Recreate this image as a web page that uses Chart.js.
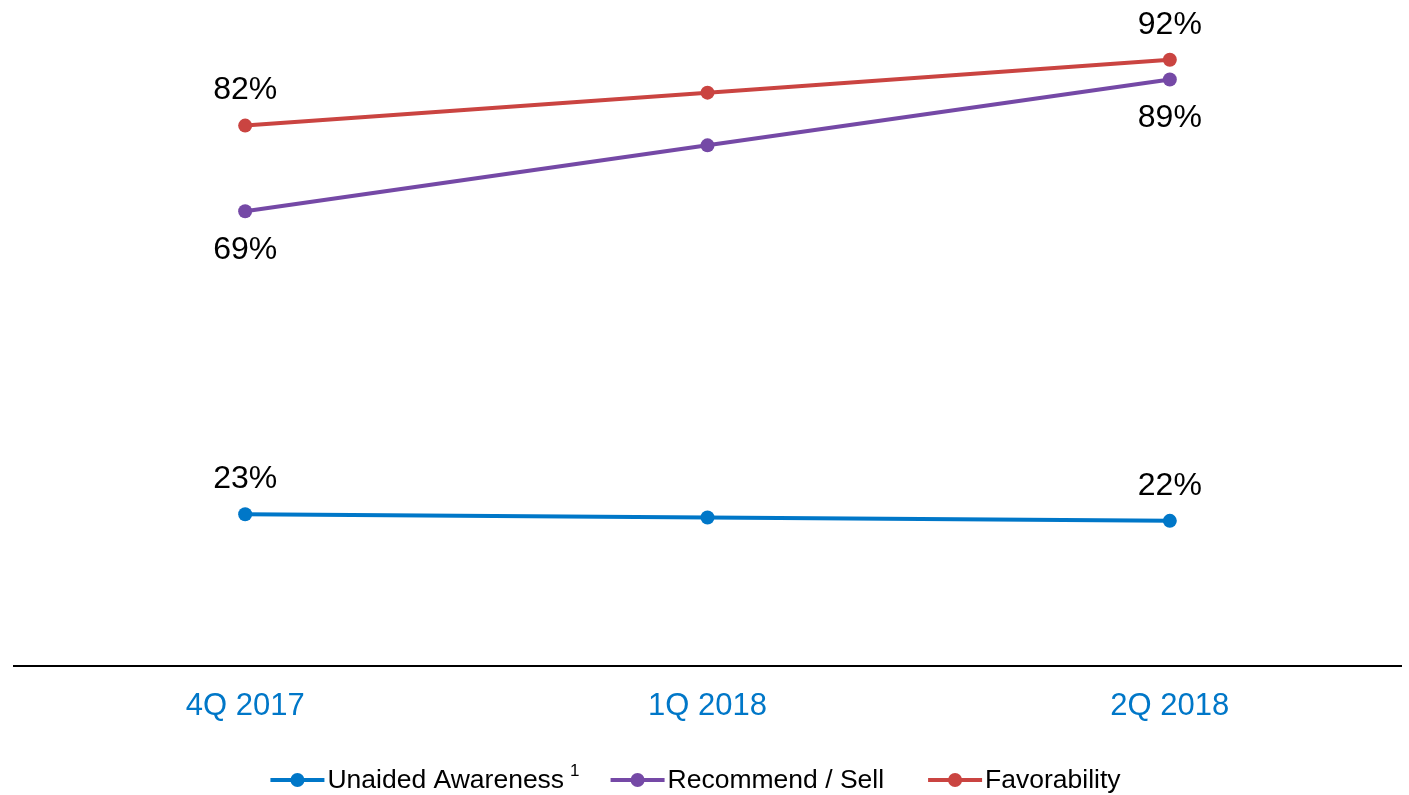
<!DOCTYPE html>
<html><head><meta charset="utf-8">
<script src="https://cdn.jsdelivr.net/npm/chart.js@4.4.0/dist/chart.umd.min.js"></script>
<style>html,body{margin:0;padding:0;background:#fff;overflow:hidden}</style>
</head><body>
<canvas id="c" width="1409" height="795"></canvas>
<script>
const categories = ["4Q 2017", "1Q 2018", "2Q 2018"];
const seriesNames = ["Unaided Awareness", "Recommend / Sell", "Favorability"];
const seriesFootnotes = ["1", "", ""];
const unaidedAwareness = [23, 22.5, 22];
const recommendSell = [69, 79, 89];
const favorability = [82, 87, 92];
const unaidedLabels = ["23%", "", "22%"];
const recommendLabels = ["69%", "", "89%"];
const favorabilityLabels = ["82%", "", "92%"];
const yRange = [0, 100];

const FONT = "'Liberation Sans', Arial, sans-serif";
const colors = ["#0077C8", "#7549A6", "#CA4441"];

const dataLabelPlugin = {
  id: 'dataLabels',
  afterDatasetsDraw(chart) {
    const ctx = chart.ctx;
    ctx.save();
    ctx.font = "32px " + FONT;
    ctx.fillStyle = "#000";
    ctx.textAlign = "center";
    ctx.textBaseline = "middle";
    chart.data.datasets.forEach((ds, i) => {
      const meta = chart.getDatasetMeta(i);
      meta.data.forEach((pt, j) => {
        const t = ds.pointLabels[j];
        if (!t) return;
        const off = ds.labelPos === 'below' ? 39 : -35;
        ctx.fillText(t, pt.x, pt.y + off);
      });
    });
    ctx.restore();
  }
};

const legendPlugin = {
  id: 'customLegend',
  afterDraw(chart) {
    const ctx = chart.ctx;
    ctx.save();
    const y = 780;
    const markerW = 54, textGap = 3, itemGaps = [31, 44];
    const mainFont = "26.5px " + FONT, supFont = "17px " + FONT;
    const items = chart.data.datasets.map((ds, i) => {
      ctx.font = mainFont;
      const tw = ctx.measureText(ds.label).width;
      let sw = 0;
      if (ds.footnote) { ctx.font = supFont; sw = 6 + ctx.measureText(ds.footnote).width; }
      return {ds, tw, sw, w: markerW + textGap + tw + sw};
    });
    const total = items.reduce((a, b) => a + b.w, 0) + itemGaps.reduce((a, b) => a + b, 0);
    let x = (chart.width - total) / 2 - 9;
    items.forEach((it, k) => {
      const c = it.ds.borderColor;
      ctx.strokeStyle = c; ctx.lineWidth = 4; ctx.lineCap = 'butt';
      ctx.beginPath(); ctx.moveTo(x, y); ctx.lineTo(x + markerW, y); ctx.stroke();
      ctx.fillStyle = c;
      ctx.beginPath(); ctx.arc(x + markerW / 2, y, 7, 0, Math.PI * 2); ctx.fill();
      ctx.fillStyle = "#000"; ctx.font = mainFont; ctx.textAlign = 'left'; ctx.textBaseline = 'middle';
      ctx.fillText(it.ds.label, x + markerW + textGap, y + 1);
      if (it.ds.footnote) {
        ctx.font = supFont;
        ctx.fillText(it.ds.footnote, x + markerW + textGap + it.tw + 6, y - 9);
      }
      x += it.w + (itemGaps[k] || 0);
    });
    ctx.restore();
  }
};

function ds(idx, data, labels, pos) {
  return {
    label: seriesNames[idx], footnote: seriesFootnotes[idx], data, pointLabels: labels, labelPos: pos,
    borderColor: colors[idx], backgroundColor: colors[idx], pointBackgroundColor: colors[idx],
    pointBorderColor: colors[idx], borderWidth: 4, pointRadius: 7, pointHoverRadius: 7,
    pointBorderWidth: 0, tension: 0, fill: false
  };
}

new Chart(document.getElementById('c'), {
  type: 'line',
  data: {
    labels: categories,
    datasets: [
      ds(0, unaidedAwareness, unaidedLabels, 'above'),
      ds(1, recommendSell, recommendLabels, 'below'),
      ds(2, favorability, favorabilityLabels, 'above')
    ]
  },
  options: {
    responsive: false, animation: false, devicePixelRatio: 1,
    layout: { padding: { left: 14, right: 8, top: 7, bottom: 56 } },
    plugins: { legend: { display: false }, tooltip: { enabled: false } },
    scales: {
      x: {
        offset: true,
        grid: { display: false },
        border: { display: true, color: '#000', width: 2 },
        ticks: { color: '#0077C8', font: { size: 31, family: FONT }, padding: 14 }
      },
      y: { display: false, min: yRange[0], max: yRange[1] }
    }
  },
  plugins: [dataLabelPlugin, legendPlugin]
});
</script>
</body></html>
